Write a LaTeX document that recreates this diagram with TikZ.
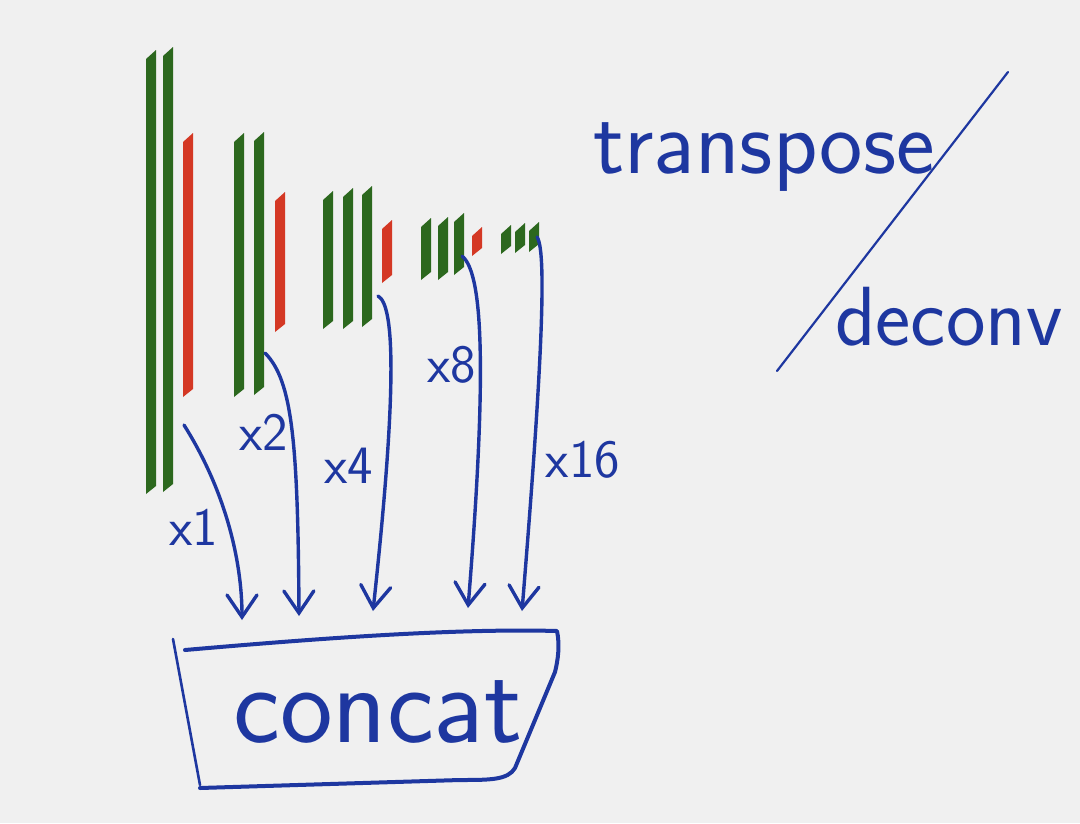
\documentclass[tikz,border=0pt]{standalone}
\usetikzlibrary{arrows.meta}
\definecolor{ink}{RGB}{30,55,160}
\definecolor{barg}{RGB}{44,104,30}
\definecolor{barr}{RGB}{212,56,36}
\definecolor{paper}{RGB}{240,240,240}
\newcommand\drawbar[4]{\fill[#4] (#1,#2+9) -- (#1+10,#2) -- (#1+10,#3-8) -- (#1,#3) -- cycle;}
\tikzset{
  inkline/.style={draw=ink, line width=3.4pt, line cap=round, line join=round},
  arr/.style={inkline, -{Straight Barb[length=22pt,width=30pt,line cap=round]}},
  hand/.style={text=ink, inner sep=0pt, font=\sffamily\fontsize{54}{54}\selectfont},
}
\begin{document}
\begin{tikzpicture}[x=1pt,y=-1pt]
\fill[paper] (0,0) rectangle (1080,823);
\useasboundingbox (0,0) rectangle (1080,823);
% group 1
\drawbar{146}{50}{494}{barg}
\drawbar{163}{47}{492}{barg}
\drawbar{183}{133}{397}{barr}
% group 2
\drawbar{234}{133}{397}{barg}
\drawbar{254}{132}{395}{barg}
\drawbar{275}{192}{332}{barr}
% group 3
\drawbar{323}{191}{329}{barg}
\drawbar{343}{188}{329}{barg}
\drawbar{362}{186}{327}{barg}
\drawbar{382}{220}{283}{barr}
% group 4
\drawbar{421}{218}{280}{barg}
\drawbar{438}{217}{280}{barg}
\drawbar{454}{213}{275}{barg}
\drawbar{472}{227}{256}{barr}
% group 5
\drawbar{501}{225}{254}{barg}
\drawbar{515}{223}{253}{barg}
\drawbar{529}{222}{252}{barg}
% arrow starts and ends
\coordinate (s1) at (184,425);
\coordinate (s2) at (265,353);
\coordinate (s3) at (378,296);
\coordinate (s4) at (462,256);
\coordinate (s5) at (537,237);
\coordinate (e1) at (242,620);
\coordinate (e2) at (299,616);
\coordinate (e3) at (373,611);
\coordinate (e4) at (468,608);
\coordinate (e5) at (522,611);
\draw[arr] (s1) .. controls (225,490) and (242,560) .. (e1);
\draw[arr] (s2) .. controls (292,380) and (298,440) .. (e2);
\draw[arr] (s3) .. controls (395,305) and (397,390) .. (e3);
\draw[arr] (s4) .. controls (482,272) and (488,360) .. (e4);
\draw[arr] (s5) .. controls (548,252) and (540,390) .. (e5);
% labels
\node[hand] (l1) at (194,527) {x1};
\node[hand] (l2) at (264,432) {x2};
\node[hand] (l4) at (349,466) {x4};
\node[hand] (l8) at (452,365) {x8};
\node[hand] (l16) at (583,460) {x16};
% concat box
\node[text=ink, inner sep=0pt, anchor=base, font=\sffamily\fontsize{112}{112}\selectfont] (concat) at (378,742) {concat};
\draw[inkline, line width=4pt] (185,650) .. controls (300,640) and (450,628) .. (557,631)
  .. controls (560,645) and (558,660) .. (555,672) -- (515,768)
  .. controls (508,780) and (490,780) .. (460,780) -- (200,788);
\draw[inkline, line width=2.6pt] (173,639) -- (200,785);
% transpose / deconv
\node[text=ink, inner sep=0pt, anchor=base west, font=\sffamily\fontsize{92}{92}\selectfont] (tr) at (593,173) {transpose};
\node[text=ink, inner sep=0pt, anchor=base west, font=\sffamily\fontsize{84}{84}\selectfont] (dc) at (835,345) {deconv};
\coordinate (sl1) at (1008,72);
\coordinate (sl2) at (777,371);
\draw[inkline, line width=2.2pt] (sl1) -- (sl2);
\end{tikzpicture}
\end{document}
